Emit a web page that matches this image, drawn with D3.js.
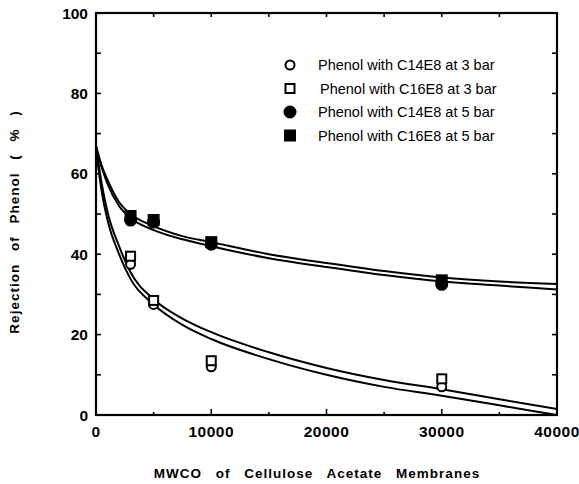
<!DOCTYPE html>
<html>
<head>
<meta charset="utf-8">
<script src="https://cdn.jsdelivr.net/npm/d3@7"></script>
<style>
  body { margin: 0; background: #fff; }
  svg { display: block; }
  text { font-family: Arial, "Liberation Sans", sans-serif; fill: #000; }
</style>
</head>
<body>
<svg id="chart" width="579" height="484"></svg>
<script>
// measured points (MWCO, rejection %)
const mwco = [3000, 5000, 10000, 30000];
const c14_3bar = [37.5, 27.5, 12, 7];
const c16_3bar = [39.5, 28.5, 13.5, 9];
const c14_5bar = [48.5, 48, 42.5, 32.5];
const c16_5bar = [49.5, 48.5, 43, 33.5];

// fitted lines
const fitX = [0, 500, 1000, 2000, 3000, 5000, 7500, 10000, 15000, 20000, 25000, 30000, 35000, 40000];
const fit16_5 = [67, 62, 58.5, 53, 50, 47, 44.5, 43, 40, 37.8, 35.8, 34.2, 33.2, 32.6];
const fit14_5 = [66.5, 61.5, 57.5, 52, 49, 46, 43.7, 42, 39, 36.8, 34.8, 33.2, 32.2, 31.2];
const fit16_3 = [67, 57.5, 50.5, 42, 35.5, 28.8, 24, 20.6, 15.6, 11.7, 8.7, 6.4, 3.9, 1.5];
const fit14_3 = [66, 55.5, 48.5, 40, 33.8, 27.5, 22.4, 18.9, 13.9, 10, 7, 4.8, 2.4, 0];

const xTicks = [0, 10000, 20000, 30000, 40000];
const yTicks = [0, 20, 40, 60, 80, 100];

const legendLabels = [
  'Phenol with C14E8 at 3 bar',
  'Phenol with C16E8 at 3 bar',
  'Phenol with C14E8 at 5 bar',
  'Phenol with C16E8 at 5 bar'
];

const svg = d3.select('#chart');
const x = d3.scaleLinear().domain([0, 40000]).range([96, 557]);
const y = d3.scaleLinear().domain([0, 100]).range([415, 13]);

// frame
svg.append('rect')
  .attr('x', x(0)).attr('y', y(100))
  .attr('width', x(40000) - x(0)).attr('height', y(0) - y(100))
  .attr('fill', 'none').attr('stroke', '#000').attr('stroke-width', 2.2);

// inward ticks on all four sides
const ticks = svg.append('g').attr('stroke', '#000').attr('stroke-width', 1.6);
d3.range(0, 40001, 5000).forEach(v => {
  const len = v % 10000 === 0 ? 6 : 3;
  ticks.append('line').attr('x1', x(v)).attr('x2', x(v)).attr('y1', y(0)).attr('y2', y(0) - len);
  ticks.append('line').attr('x1', x(v)).attr('x2', x(v)).attr('y1', y(100)).attr('y2', y(100) + 4);
});
d3.range(0, 101, 10).forEach(v => {
  ticks.append('line').attr('x1', x(0)).attr('x2', x(0) + 5).attr('y1', y(v)).attr('y2', y(v));
  ticks.append('line').attr('x1', x(40000)).attr('x2', x(40000) - 5).attr('y1', y(v)).attr('y2', y(v));
});

// tick labels
svg.append('g').selectAll('text').data(xTicks).join('text')
  .attr('x', d => x(d)).attr('y', 437)
  .attr('text-anchor', 'middle')
  .attr('font-size', 15.5).attr('font-weight', 'bold').attr('letter-spacing', 0.5)
  .text(d => d);
svg.append('g').selectAll('text').data(yTicks).join('text')
  .attr('x', 88).attr('y', d => y(d) + 5.5)
  .attr('text-anchor', 'end')
  .attr('font-size', 15.5).attr('font-weight', 'bold')
  .text(d => d);

// axis titles
svg.append('text')
  .attr('x', 317).attr('y', 478)
  .attr('text-anchor', 'middle')
  .attr('font-size', 13.5).attr('font-weight', 'bold')
  .attr('word-spacing', 9).attr('letter-spacing', 1)
  .text('MWCO of Cellulose Acetate Membranes');
svg.append('text')
  .attr('transform', 'translate(19,222) rotate(-90)')
  .attr('text-anchor', 'middle')
  .attr('font-size', 13.5).attr('font-weight', 'bold')
  .attr('word-spacing', 8).attr('letter-spacing', 1)
  .text('Rejection of Phenol ( % )');

// fitted curves
const line = d3.line()
  .x(d => x(d[0])).y(d => y(d[1]))
  .curve(d3.curveMonotoneX);
[fit16_5, fit14_5, fit16_3, fit14_3].forEach(s => {
  svg.append('path')
    .datum(fitX.map((v, i) => [v, s[i]]))
    .attr('d', line)
    .attr('fill', 'none').attr('stroke', '#000').attr('stroke-width', 2);
});

// markers
const series = [
  { vals: c14_3bar, shape: 'circle', fill: false },
  { vals: c16_3bar, shape: 'square', fill: false },
  { vals: c14_5bar, shape: 'circle', fill: true },
  { vals: c16_5bar, shape: 'square', fill: true }
];

function drawMarker(g, shape, filled, cx, cy) {
  if (shape === 'circle') {
    g.append('circle')
      .attr('cx', cx).attr('cy', cy).attr('r', filled ? 5.5 : 4.5)
      .attr('fill', filled ? '#000' : '#fff')
      .attr('stroke', '#000').attr('stroke-width', 2);
  } else {
    const s = filled ? 10 : 9;
    g.append('rect')
      .attr('x', cx - s / 2).attr('y', cy - s / 2)
      .attr('width', s).attr('height', s)
      .attr('fill', filled ? '#000' : '#fff')
      .attr('stroke', '#000').attr('stroke-width', 2);
  }
}

const marks = svg.append('g');
series.forEach(s => {
  s.vals.forEach((v, i) => drawMarker(marks, s.shape, s.fill, x(mwco[i]), y(v)));
});

// legend
const legend = svg.append('g');
legendLabels.forEach((lab, i) => {
  const ly = 65 + i * 23.5;
  drawMarker(legend, series[i].shape, series[i].fill, 290, ly);
  legend.append('text')
    .attr('x', i === 1 ? 320 : 318).attr('y', ly + 5)
    .attr('font-size', 14.5)
    .text(lab);
});
</script>
</body>
</html>
